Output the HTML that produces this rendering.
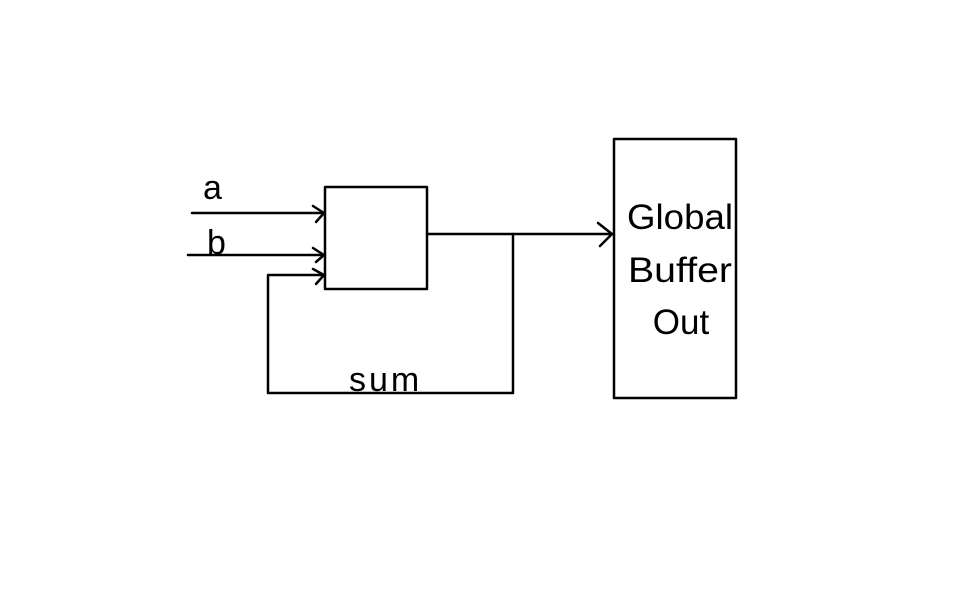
<!DOCTYPE html>
<html><head><style>body{margin:0;background:#fff}</style></head><body>
<svg width="960" height="600" xmlns="http://www.w3.org/2000/svg">
<rect width="960" height="600" fill="#fff"/>
<g stroke="#000" stroke-width="2.5" fill="none" stroke-linecap="round" stroke-linejoin="round">
<rect x="325" y="187" width="102" height="102"/>
<rect x="614" y="139" width="122" height="259"/>
<line x1="192" y1="213" x2="324" y2="213"/>
<polyline points="313,206 324,213 316,222"/>
<line x1="188" y1="255" x2="324" y2="255"/>
<polyline points="313,248 324,255 316,262"/>
<polyline points="324,275 268,275 268,393 513,393 513,234"/>
<polyline points="313,269 324,275 316,284"/>
<line x1="427" y1="234" x2="612" y2="234"/>
<polyline points="598,223 612,234 600,246"/>
</g>
<g font-family="Liberation Sans, sans-serif" font-size="35" fill="#000" text-anchor="middle">
<text x="680" y="229" textLength="106" lengthAdjust="spacingAndGlyphs">Global</text>
<text x="680" y="282" textLength="104" lengthAdjust="spacingAndGlyphs">Buffer</text>
<text x="681" y="334">Out</text>
</g>
<g font-family="Liberation Sans, sans-serif" font-size="34" fill="#000">
<text x="203" y="199">a</text>
<text x="207" y="254">b</text>
<text x="349" y="391" letter-spacing="3">sum</text>
</g>
</svg>
</body></html>
